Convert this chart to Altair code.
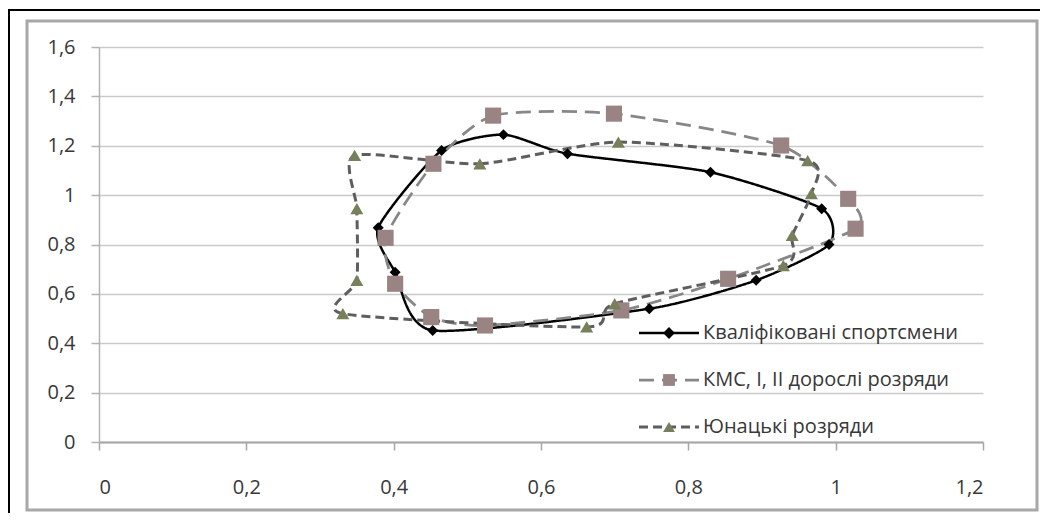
import altair as alt
import pandas as pd

# ---- data ----
series_names = [
    "Кваліфіковані спортсмени",
    "КМС, I, II дорослі розряди",
    "Юнацькі розряди",
]

qual_x = [0.465, 0.549, 0.636, 0.830, 0.981, 0.991, 0.892, 0.747, 0.453, 0.402, 0.379]
qual_y = [1.181, 1.245, 1.168, 1.093, 0.945, 0.800, 0.655, 0.540, 0.452, 0.688, 0.868]

kms_x = [0.454, 0.535, 0.699, 0.926, 1.017, 1.027, 0.854, 0.709, 0.524, 0.451, 0.402, 0.389]
kms_y = [1.127, 1.322, 1.330, 1.201, 0.985, 0.864, 0.661, 0.533, 0.472, 0.506, 0.641, 0.827]

youth_x = [0.347, 0.517, 0.705, 0.962, 0.967, 0.941, 0.929, 0.700, 0.662, 0.331, 0.350, 0.350]
youth_y = [1.161, 1.127, 1.215, 1.140, 1.006, 0.837, 0.715, 0.560, 0.466, 0.520, 0.655, 0.945]

x_ticks = [0, 0.2, 0.4, 0.6, 0.8, 1.0, 1.2]
y_ticks = [0, 0.2, 0.4, 0.6, 0.8, 1.0, 1.2, 1.4, 1.6]

# marker keys: same names (hidden labels of the marker legend), kept distinct
# from the line keys so that the two legends are drawn separately and overlaid
marker_keys = [n + " " for n in series_names]

rows = []
for name, mkey, xs, ys in zip(series_names, marker_keys, [qual_x, kms_x, youth_x], [qual_y, kms_y, youth_y]):
    for i, (xv, yv) in enumerate(zip(xs, ys)):
        rows.append({"series": name, "series_m": mkey, "order": i, "x": xv, "y": yv})
df = pd.DataFrame(rows)

# ---- styles ----
FONT = "Open Sans"
LABEL_SIZE = 20
TEXT_COLOR = "#383838"
line_colors = ["#000000", "#878787", "#5e5e5e"]
marker_colors = ["#000000", "#9a8383", "#76805a"]
dashes = [[1, 0], [15, 8], [9, 5]]
widths = [2.5, 3, 3]
shapes = ["diamond", "square", "triangle-up"]
sizes = [120, 260, 170]

LEG_X, LEG_Y = 560, 276

line_legend = alt.Legend(
    title=None, orient="none", legendX=LEG_X, legendY=LEG_Y, padding=0,
    symbolType="M-6,0H6", symbolSize=100, symbolStrokeWidth=2.5,
    labelFont=FONT, labelFontSize=LABEL_SIZE, labelColor=TEXT_COLOR,
    labelLimit=400, labelOffset=24, rowPadding=27, zindex=0,
)
marker_legend = alt.Legend(
    title=None, orient="none", legendX=LEG_X, legendY=LEG_Y, padding=0,
    symbolSize=140, symbolStrokeWidth=0,
    labelFont=FONT, labelFontSize=LABEL_SIZE, labelOpacity=0,
    labelLimit=400, labelOffset=24, rowPadding=27, zindex=1,
)

xscale = alt.Scale(domain=[0, 1.2], nice=False, zero=False)
yscale = alt.Scale(domain=[0, 1.6], nice=False, zero=False)

x_axis = alt.Axis(
    title=None, values=x_ticks, grid=False,
    labelExpr="replace(format(datum.value, '.1~f'), '.', ',')",
    domainColor="#a6a6a6", domainWidth=2,
    tickColor="#a6a6a6", tickWidth=1.5, tickSize=8,
    labelFont=FONT, labelFontSize=LABEL_SIZE, labelColor=TEXT_COLOR, labelPadding=27,
)
y_axis = alt.Axis(
    title=None, values=y_ticks, grid=True, gridColor="#cacaca", gridWidth=1.5,
    labelExpr="replace(format(datum.value, '.1~f'), '.', ',')",
    domainColor="#b3b3b3", domainWidth=1.5,
    tickColor="#b3b3b3", tickWidth=1.5, tickSize=8,
    labelFont=FONT, labelFontSize=LABEL_SIZE, labelColor=TEXT_COLOR, labelPadding=16,
)

base = alt.Chart(df)

lines = base.mark_line(interpolate="cardinal-closed", tension=0.35).encode(
    x=alt.X("x:Q", scale=xscale, axis=x_axis),
    y=alt.Y("y:Q", scale=yscale, axis=y_axis),
    order="order:Q",
    color=alt.Color("series:N", scale=alt.Scale(domain=series_names, range=line_colors), legend=line_legend),
    strokeDash=alt.StrokeDash("series:N", scale=alt.Scale(domain=series_names, range=dashes), legend=line_legend),
    strokeWidth=alt.StrokeWidth("series:N", scale=alt.Scale(domain=series_names, range=widths), legend=None),
)

fill_enc = alt.Fill("series_m:N", scale=alt.Scale(domain=marker_keys, range=marker_colors), legend=marker_legend)
shape_enc = alt.Shape("series_m:N", scale=alt.Scale(domain=marker_keys, range=shapes), legend=marker_legend)

point_layers = []
for i, mkey in enumerate(marker_keys):
    point_layers.append(
        base.transform_filter(alt.datum.series_m == mkey)
        .mark_point(filled=True, opacity=1, strokeWidth=0, size=sizes[i])
        .encode(x="x:Q", y="y:Q", fill=fill_enc, shape=shape_enc)
    )

# chart area frame (decoration)
one = pd.DataFrame({"a": [0]})
frame = alt.Chart(one).mark_rect(
    fill="transparent", stroke="#a8a8a8", strokeWidth=3
).encode(x=alt.value(-72), x2=alt.value(938), y=alt.value(-26), y2=alt.value(463))
outer_left = alt.Chart(one).mark_rule(color="#000000", strokeWidth=2).encode(
    x=alt.value(-90), y=alt.value(-38), y2=alt.value(470))
outer_top = alt.Chart(one).mark_rule(color="#000000", strokeWidth=2).encode(
    x=alt.value(-91), x2=alt.value(945), y=alt.value(-37))

chart = alt.layer(frame, outer_left, outer_top, lines, *point_layers).properties(
    width=884, height=395,
    autosize=alt.AutoSizeParams(type="none"),
    padding={"left": 91, "top": 39, "right": 57, "bottom": 71},
).configure_view(strokeWidth=0)

chart.save("out.html", embed_options={"renderer": "svg", "actions": False})
